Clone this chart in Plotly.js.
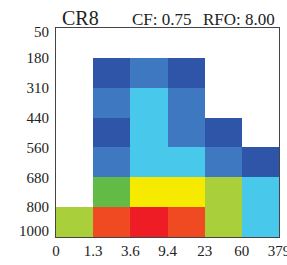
<!DOCTYPE html>
<html>
<head>
<meta charset="utf-8">
<script src="https://cdn.plot.ly/plotly-3.0.1.min.js"></script>
<style>
  html, body { margin: 0; padding: 0; background: #fff; overflow: hidden; }
  #chart { width: 287px; height: 265px; }
</style>
</head>
<body>
<div id="chart"></div>
<script>
// Bin edge labels
const tauLabels = ['0', '1.3', '3.6', '9.4', '23', '60', '379'];
const pcLabels = ['50', '180', '310', '440', '560', '680', '800', '1000'];

// Histogram values (%), rows top (50-180 hPa) to bottom (800-1000 hPa)
const row50 = [0, 0, 0, 0, 0, 0];
const row180 = [0, 1.5, 2.5, 1.5, 0, 0];
const row310 = [0, 2.5, 3.5, 2.5, 0, 0];
const row440 = [0, 1.5, 3.5, 2.5, 1.5, 0];
const row560 = [0, 2.5, 3.5, 3.5, 2.5, 1.5];
const row680 = [0, 4.5, 7, 7, 5.5, 3.5];
const row800 = [5.5, 9, 12.5, 9, 5.5, 3.5];

const cf = '0.75';
const rfo = '8.00';
const regime = 'CR8';

// Discrete colour bands
const bounds = [0, 1, 2, 3, 4, 5, 6, 8, 10, 15];
const bandColors = ['#ffffff', '#2e55a7', '#3d78c0', '#48c8ea', '#62ba47', '#a9cf3b', '#f6eb00', '#f04a23', '#ee1c25'];

const zmax = bounds[bounds.length - 1];
const colorscale = [];
for (let i = 0; i < bandColors.length; i++) {
  colorscale.push([bounds[i] / zmax, bandColors[i]]);
  colorscale.push([bounds[i + 1] / zmax, bandColors[i]]);
}

const z = [row50, row180, row310, row440, row560, row680, row800];
const xEdges = tauLabels.map((_, i) => i);
const yEdges = pcLabels.map((_, i) => i);

const yTickVals = yEdges.slice();
yTickVals[0] = 0.12;
yTickVals[yTickVals.length - 1] = yEdges.length - 1 - 0.2;

const serif = 'Liberation Serif, Times New Roman, serif';

const trace = {
  type: 'heatmap',
  x: xEdges,
  y: yEdges,
  z: z,
  zmin: 0,
  zmax: zmax,
  colorscale: colorscale,
  showscale: false,
  hoverinfo: 'skip',
  xgap: 0,
  ygap: 0
};

const layout = {
  width: 287,
  height: 265,
  margin: { l: 55.5, r: 8, t: 27.5, b: 28, pad: 0 },
  paper_bgcolor: '#ffffff',
  plot_bgcolor: '#ffffff',
  showlegend: false,
  font: { family: serif, size: 15, color: '#222' },
  xaxis: {
    range: [0, tauLabels.length - 1],
    tickvals: xEdges,
    ticktext: tauLabels,
    showgrid: false,
    zeroline: false,
    showline: true,
    linecolor: '#444',
    linewidth: 1,
    mirror: true,
    ticks: '',
    ticklabeloverflow: 'allow',
    tickfont: { family: serif, size: 15, color: '#222' },
    fixedrange: true
  },
  yaxis: {
    range: [pcLabels.length - 1, 0],
    tickvals: yTickVals,
    ticktext: pcLabels,
    showgrid: false,
    zeroline: false,
    showline: true,
    linecolor: '#444',
    linewidth: 1,
    mirror: true,
    ticks: '',
    ticklabelstandoff: 3,
    ticklabeloverflow: 'allow',
    tickfont: { family: serif, size: 15, color: '#222' },
    fixedrange: true
  },
  annotations: [
    { text: regime, xref: 'paper', yref: 'paper', x: 0.02, y: 1, xanchor: 'left', yanchor: 'bottom',
      showarrow: false, font: { family: serif, size: 20, color: '#222' }, yshift: -3 },
    { text: 'CF: ' + cf, xref: 'paper', yref: 'paper', x: 0.333, y: 1, xanchor: 'left', yanchor: 'bottom',
      showarrow: false, font: { family: serif, size: 17, color: '#222' }, yshift: -3 },
    { text: 'RFO: ' + rfo, xref: 'paper', yref: 'paper', x: 0.99, y: 1, xanchor: 'right', yanchor: 'bottom',
      showarrow: false, font: { family: serif, size: 17, color: '#222' }, yshift: -3 }
  ]
};

Plotly.newPlot('chart', [trace], layout, { displayModeBar: false, staticPlot: true });
</script>
</body>
</html>
